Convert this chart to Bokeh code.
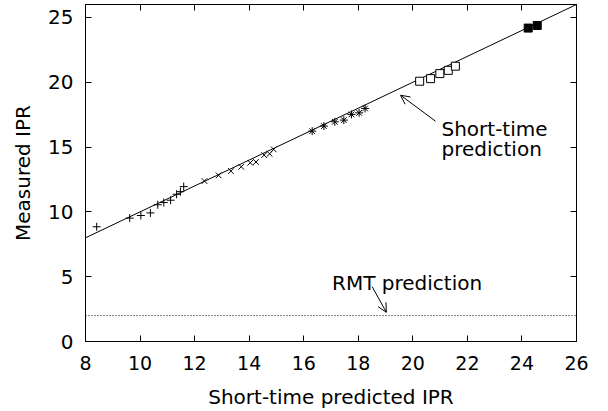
from bokeh.plotting import figure
from bokeh.models import LinearAxis, Arrow, OpenHead, Range1d, FixedTicker, CustomJSTickFormatter
from bokeh.core.properties import value
from bokeh.embed import file_html
from bokeh.resources import INLINE

# --- data ---
plus_x = [8.41, 9.62, 10.03, 10.38, 10.65, 10.87, 11.12, 11.34, 11.48, 11.60]
plus_y = [8.85, 9.52, 9.72, 9.92, 10.55, 10.72, 10.90, 11.36, 11.56, 11.95]

cross_x = [12.36, 12.88, 13.33, 13.71, 14.04, 14.25, 14.55, 14.75, 14.90]
cross_y = [12.38, 12.82, 13.15, 13.48, 13.79, 13.85, 14.38, 14.48, 14.82]

star_x = [16.31, 16.74, 17.14, 17.47, 17.75, 18.03, 18.25]
star_y = [16.23, 16.62, 16.95, 17.08, 17.52, 17.64, 17.98]

osq_x = [20.25, 20.65, 20.99, 21.30, 21.56]
osq_y = [20.08, 20.28, 20.67, 20.92, 21.24]

fsq_x = [24.23, 24.56]
fsq_y = [24.18, 24.38]

short_time_x = [8, 26]
short_time_y = [8, 26]

rmt_x = [8, 26]
rmt_y = [2, 2]

x_ticks = [8, 10, 12, 14, 16, 18, 20, 22, 24, 26]
y_ticks = [0, 5, 10, 15, 20, 25]

FONT = "DejaVu Sans"

p = figure(width=608, height=411, output_backend="svg", toolbar_location=None,
           x_range=Range1d(8, 26), y_range=Range1d(0, 26),
           min_border_left=85, min_border_right=32, min_border_top=4, min_border_bottom=70)
p.grid.visible = False
p.outline_line_color = "black"
p.outline_line_width = 1
p.background_fill_color = "white"
p.border_fill_color = "white"

for ax in (p.xaxis[0], p.yaxis[0]):
    ax.major_tick_in = 6
    ax.major_tick_out = 0
    ax.minor_tick_line_color = None
    ax.axis_line_color = "black"
    ax.major_label_text_font = FONT
    ax.major_label_text_font_size = "19px"
    ax.major_label_text_color = "black"
    ax.axis_label_text_font = FONT
    ax.axis_label_text_font_size = "20px"
    ax.axis_label_text_font_style = "normal"
    ax.axis_label_text_color = "black"

p.xaxis[0].ticker = FixedTicker(ticks=x_ticks)
p.yaxis[0].ticker = FixedTicker(ticks=y_ticks)
p.yaxis[0].major_label_text_font_size = "20px"
p.xaxis[0].axis_label = "Short-time predicted IPR"
p.yaxis[0].axis_label = "Measured IPR"
p.xaxis[0].major_label_standoff = 14
p.yaxis[0].major_label_standoff = 12
p.xaxis[0].axis_label_standoff = 12
p.yaxis[0].axis_label_standoff = 10

blank = CustomJSTickFormatter(code="return ''")
top = LinearAxis(ticker=FixedTicker(ticks=x_ticks), major_tick_in=6, major_tick_out=0,
                 minor_tick_line_color=None, formatter=blank, major_label_standoff=0)
right = LinearAxis(ticker=FixedTicker(ticks=y_ticks), major_tick_in=6, major_tick_out=0,
                   minor_tick_line_color=None, formatter=blank, major_label_standoff=0)
p.add_layout(top, "above")
p.add_layout(right, "right")

# lines
p.line(short_time_x, short_time_y, line_color="black", line_width=1)
p.line(rmt_x, rmt_y, line_color="black", line_width=1, line_dash="1 2")

# markers
p.scatter(plus_x, plus_y, marker="cross", size=8, line_color="black", line_width=1)
p.scatter(cross_x, cross_y, marker="x", size=8, line_color="black", line_width=1)
p.scatter(star_x, star_y, marker="asterisk", size=8, line_color="black", line_width=1)
p.scatter(osq_x, osq_y, marker="square", size=8, line_color="black", fill_color="white", line_width=1)
p.scatter(fsq_x, fsq_y, marker="square", size=8, line_color="black", fill_color="black", line_width=1)

# annotations
p.text(x=[21.05], y=[16.38], text=["Short-time"], text_font=value(FONT),
       text_font_size="20px", text_color="black", text_baseline="alphabetic")
p.text(x=[21.05], y=[14.85], text=["prediction"], text_font=value(FONT),
       text_font_size="20px", text_color="black", text_baseline="alphabetic")
p.text(x=[17.04], y=[4.54], text=["RMT prediction"], text_font=value(FONT),
       text_font_size="20px", text_color="black", text_baseline="alphabetic")

p.add_layout(Arrow(end=OpenHead(size=9, line_width=1, line_color="black"),
                   x_start=20.83, y_start=17.0, x_end=19.55, y_end=19.0,
                   line_width=1, line_color="black"))
p.add_layout(Arrow(end=OpenHead(size=9, line_width=1, line_color="black"),
                   x_start=18.51, y_start=4.23, x_end=19.03, y_end=2.25,
                   line_width=1, line_color="black"))

open("out.html", "w").write(file_html(p, INLINE))
